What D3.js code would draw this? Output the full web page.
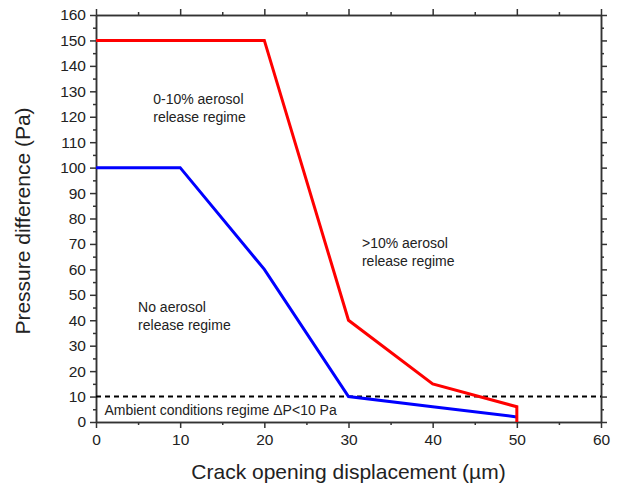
<!DOCTYPE html>
<html>
<head>
<meta charset="utf-8">
<script src="https://cdn.jsdelivr.net/npm/d3@7"></script>
<style>
  body { margin: 0; background: #fff; }
  svg { font-family: Arial, "Liberation Sans", sans-serif; }
</style>
</head>
<body>
<script>
// Data
const redX = [0, 20, 30, 40, 50, 50];
const redY = [150, 150, 40, 15, 6, 0];
const blueX = [0, 10, 20, 30, 40, 50];
const blueY = [100, 100, 60, 10, 6, 2];
const thresholdY = 10;
const xTicks = [0, 10, 20, 30, 40, 50, 60];
const yTicks = [0, 10, 20, 30, 40, 50, 60, 70, 80, 90, 100, 110, 120, 130, 140, 150, 160];
const notes = [
  { x: 6.8, y: 125.2, lines: ['0-10% aerosol', 'release regime'] },
  { x: 31.6, y: 68.5, lines: ['>10% aerosol', 'release regime'] },
  { x: 5.0, y: 43.2, lines: ['No aerosol', 'release regime'] },
  { x: 1.0, y: 2.6, lines: ['Ambient conditions regime \u0394P<10 Pa'] }
];

const width = 621, height = 489;
const margin = { top: 15, right: 20, bottom: 67, left: 96 };
const innerW = 601 - margin.left;
const innerH = 422 - margin.top;

const svg = d3.select('body').append('svg')
  .attr('width', width)
  .attr('height', height);

const g = svg.append('g')
  .attr('transform', `translate(${margin.left},${margin.top})`);

const x = d3.scaleLinear().domain([0, 60]).range([0, innerW]);
const y = d3.scaleLinear().domain([0, 160]).range([innerH, 0]);

const axisColor = '#333';

// minor ticks every 5 units, major with labels
function styleAxis(sel) {
  sel.select('.domain').attr('stroke', axisColor).attr('stroke-width', 1.5);
  sel.selectAll('.tick line').attr('stroke', axisColor).attr('stroke-width', 1.5);
  sel.selectAll('.tick text').attr('fill', '#222').style('font-size', '15.5px');
}

const xMinor = d3.range(5, 60, 10);
const yMinor = d3.range(5, 160, 10);

// bottom
g.append('g').attr('transform', `translate(0,${innerH})`)
  .call(d3.axisBottom(x).tickValues(xTicks).tickSize(6).tickSizeOuter(0).tickPadding(6))
  .call(styleAxis);
g.append('g').attr('transform', `translate(0,${innerH})`)
  .call(d3.axisBottom(x).tickValues(xMinor).tickSize(3).tickSizeOuter(0).tickFormat(''))
  .call(styleAxis);
// top
g.append('g')
  .call(d3.axisTop(x).tickValues(xTicks).tickSize(6).tickSizeOuter(0).tickFormat(''))
  .call(styleAxis);
g.append('g')
  .call(d3.axisTop(x).tickValues(xMinor).tickSize(3).tickSizeOuter(0).tickFormat(''))
  .call(styleAxis);
// left
g.append('g')
  .call(d3.axisLeft(y).tickValues(yTicks).tickSize(6).tickSizeOuter(0).tickPadding(4))
  .call(styleAxis);
g.append('g')
  .call(d3.axisLeft(y).tickValues(yMinor).tickSize(3).tickSizeOuter(0).tickFormat(''))
  .call(styleAxis);
// right
g.append('g').attr('transform', `translate(${innerW},0)`)
  .call(d3.axisRight(y).tickValues(yTicks).tickSize(6).tickSizeOuter(0).tickFormat(''))
  .call(styleAxis);
g.append('g').attr('transform', `translate(${innerW},0)`)
  .call(d3.axisRight(y).tickValues(yMinor).tickSize(3).tickSizeOuter(0).tickFormat(''))
  .call(styleAxis);

// threshold dashed line
g.append('line')
  .attr('x1', x(0)).attr('x2', x(60))
  .attr('y1', y(thresholdY)).attr('y2', y(thresholdY))
  .attr('stroke', '#000')
  .attr('stroke-width', 2)
  .attr('stroke-dasharray', '5,4');

const line = d3.line().x(d => x(d[0])).y(d => y(d[1]));

g.append('path')
  .datum(blueX.map((v, i) => [v, blueY[i]]))
  .attr('d', line)
  .attr('fill', 'none')
  .attr('stroke', '#0000ff')
  .attr('stroke-width', 3);

g.append('path')
  .datum(redX.map((v, i) => [v, redY[i]]))
  .attr('d', line)
  .attr('fill', 'none')
  .attr('stroke', '#ff0000')
  .attr('stroke-width', 3);

// annotations
notes.forEach(n => {
  const t = g.append('text')
    .attr('x', x(n.x))
    .attr('y', y(n.y))
    .attr('fill', '#222')
    .style('font-size', '14px');
  n.lines.forEach((s, i) => {
    t.append('tspan')
      .attr('x', x(n.x))
      .attr('dy', i === 0 ? 0 : 18)
      .text(s);
  });
});

// axis titles
svg.append('text')
  .attr('x', margin.left + innerW / 2)
  .attr('y', 479)
  .attr('text-anchor', 'middle')
  .attr('fill', '#222')
  .style('font-size', '21px')
  .text('Crack opening displacement (\u00b5m)');

svg.append('text')
  .attr('transform', 'translate(30,221) rotate(-90)')
  .attr('text-anchor', 'middle')
  .attr('fill', '#222')
  .style('font-size', '21px')
  .text('Pressure difference (Pa)');
</script>
</body>
</html>
